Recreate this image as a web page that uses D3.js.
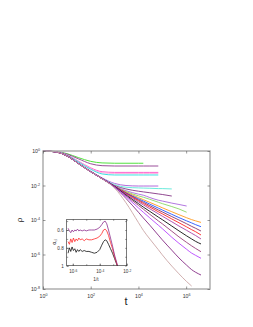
<!DOCTYPE html>
<html>
<head>
<meta charset="utf-8">
<script src="https://cdn.jsdelivr.net/npm/d3@7"></script>
<style>
html, body { margin: 0; padding: 0; background: #fff; }
svg { display: block; }
</style>
</head>
<body>
<svg id="chart"></svg>
<script>
// main panel: rho(t), one array per run, null after the run stops
const times = [1, 3, 10, 30, 100, 300, 1e3, 3e3, 1e4, 1.6e4, 3e4, 6.8e4, 1e5, 2.5e5, 5e5, 1.05e6, 1.7e6, 2.5e6, 4.2e6];

const rhoGreen = [1, 0.955, 0.708, 0.417, 0.251, 0.204, 0.195, 0.195, 0.195, 0.195];
const rhoPurpleA = [1, 0.933, 0.661, 0.355, 0.182, 0.141, 0.135, 0.135, 0.135, 0.135, 0.135, 0.135];
const rhoPink = [1, 0.933, 0.603, 0.263, 0.105, 0.063, 0.0575, 0.0575, 0.0575, 0.0575, 0.0575, 0.0575];
const rhoLightPink = [1, 0.933, 0.589, 0.251, 0.0955, 0.055, 0.0501, 0.0501, 0.0501, 0.0501, 0.0501, 0.0501];
const rhoCyan = [1, 0.933, 0.575, 0.234, 0.0871, 0.0468, 0.0407, 0.0407, 0.0407, 0.0407, 0.0407, 0.0407];
const rhoVioletA = [1, 0.912, 0.537, 0.2, 0.0676, 0.0275, 0.0132, 0.01, 0.00933, 0.00933, 0.00933, 0.00933];
const rhoLightCyan = [1, 0.912, 0.537, 0.195, 0.0661, 0.0263, 0.0112, 0.00794, 0.00724, 0.00708, 0.00692, 0.00661, 0.00661, 0.00631];
const rhoPurpleB = [1, 0.912, 0.525, 0.191, 0.0646, 0.0257, 0.01, 0.00631, 0.00468, 0.00427, 0.0038, 0.00324, 0.00302, 0.00245];
const rhoVioletB = [1, 0.912, 0.525, 0.191, 0.0631, 0.0251, 0.00933, 0.00501, 0.00316, 0.00275, 0.002, 0.00141, 0.00126, 0.000955, 0.000794, 0.000646];
const rhoLightGreen = [1, 0.912, 0.525, 0.191, 0.0631, 0.0251, 0.00891, 0.00447, 0.00251, 0.00209, 0.00158, 0.00107, 0.000891, 0.000603, 0.000437, 0.000282];
const rhoOrange = [1, 0.912, 0.525, 0.191, 0.0631, 0.0251, 0.00891, 0.00417, 0.002, 0.00151, 0.00105, 0.000646, 0.000513, 0.000302, 0.000204, 0.000135, 0.000105, 8.91e-5, 7.24e-5];
const rhoBlue = [1, 0.912, 0.525, 0.191, 0.0631, 0.0251, 0.00891, 0.0038, 0.0017, 0.00126, 0.000832, 0.00049, 0.00038, 0.000214, 0.000138, 8.91e-5, 6.76e-5, 5.37e-5, 4.07e-5];
const rhoPurpleC = [1, 0.912, 0.525, 0.191, 0.0631, 0.0251, 0.00891, 0.00363, 0.00148, 0.00107, 0.000676, 0.00038, 0.000295, 0.000158, 0.0001, 6.03e-5, 4.27e-5, 3.31e-5, 2.29e-5];
const rhoRed = [1, 0.912, 0.525, 0.191, 0.0631, 0.0251, 0.00891, 0.00339, 0.00132, 0.000912, 0.000562, 0.000302, 0.000229, 0.000115, 6.92e-5, 3.98e-5, 2.75e-5, 2.09e-5, 1.35e-5];
const rhoPurpleD = [1, 0.912, 0.525, 0.191, 0.0631, 0.0251, 0.00891, 0.00316, 0.00112, 0.000759, 0.000447, 0.000229, 0.000166, 7.94e-5, 4.47e-5, 2.51e-5, 1.7e-5, 1.26e-5, 7.94e-6];
const rhoBlack = [1, 0.912, 0.525, 0.191, 0.0631, 0.0251, 0.00891, 0.00282, 0.000891, 0.000562, 0.000316, 0.000148, 0.000105, 4.47e-5, 2.34e-5, 1.2e-5, 7.94e-6, 5.75e-6, 4.07e-6];
const rhoMauve = [1, 0.912, 0.525, 0.191, 0.0631, 0.0251, 0.00851, 0.00251, 0.000708, 0.000427, 0.000214, 8.91e-5, 6.03e-5, 2.24e-5, 1.05e-5, 5.01e-6, 3.16e-6, 2.24e-6, 1.45e-6];
const rhoVioletC = [1, 0.912, 0.525, 0.191, 0.0631, 0.025, 0.00832, 0.00224, 0.000501, 0.000282, 0.000132, 5.01e-5, 3.16e-5, 1e-5, 4.47e-6, 2e-6, 1.2e-6, 8.91e-7, 6.03e-7];
const rhoPurpleE = [1, 0.912, 0.525, 0.191, 0.0631, 0.0248, 0.00794, 0.00178, 0.000282, 0.000132, 5.01e-5, 1.32e-5, 7.08e-6, 1.78e-6, 6.31e-7, 2.4e-7, 1.32e-7, 9.33e-8, 6.46e-8];
const rhoRosy = [1, 0.912, 0.525, 0.191, 0.0631, 0.0245, 0.00708, 0.001, 7.08e-5, 2.51e-5, 7.94e-6, 1.91e-6, 9.55e-7, 2.14e-7, 7.59e-8, 2.69e-8, 1.48e-8];

const runs = [
  [rhoGreen, "#3fdc2a"], [rhoPurpleA, "#8f3a8f"], [rhoPink, "#ff4fc8"], [rhoLightPink, "#ffa8dc"],
  [rhoCyan, "#24dede"], [rhoVioletA, "#a85ad8"], [rhoLightCyan, "#5ae8d8"], [rhoPurpleB, "#853585"],
  [rhoVioletB, "#a968dc"], [rhoLightGreen, "#8ad866"], [rhoOrange, "#ff9a1e"], [rhoBlue, "#2455ff"],
  [rhoPurpleC, "#86336a"], [rhoRed, "#ff2424"], [rhoPurpleD, "#a844a8"], [rhoBlack, "#111111"],
  [rhoMauve, "#98407a"], [rhoVioletC, "#b845ff"], [rhoPurpleE, "#852a85"], [rhoRosy, "#cba6a6"]
];

// inset: alpha_d vs 1/t
const invTimes = [4.47e-7, 5.62e-7, 7.08e-7, 8.91e-7, 1.12e-6, 1.41e-6, 1.78e-6, 2.24e-6, 2.82e-6, 3.55e-6, 5.01e-6, 7.08e-6, 1e-5, 1.58e-5, 2.51e-5, 3.98e-5, 6.31e-5, 1e-4, 1.41e-4, 1.91e-4, 2.51e-4, 3.31e-4, 4.47e-4, 6.31e-4, 8.91e-4, 1.26e-3, 1.78e-3, 2.51e-3];
const alphaPurple = [0.58, 0.61, 0.63, 0.60, 0.62, 0.60, 0.61, 0.59, 0.61, 0.60, 0.61, 0.60, 0.61, 0.60, 0.60, 0.60, 0.59, 0.57, 0.54, 0.51, 0.50, 0.53, 0.60, 0.69, 0.78, 0.88, 0.96, 1.05];
const alphaRed = [0.73, 0.76, 0.70, 0.74, 0.69, 0.73, 0.70, 0.72, 0.69, 0.71, 0.70, 0.72, 0.70, 0.71, 0.71, 0.70, 0.69, 0.67, 0.64, 0.60, 0.59, 0.61, 0.66, 0.74, 0.81, 0.90, 0.97, 1.05];
const alphaBlack = [0.86, 0.80, 0.84, 0.79, 0.83, 0.81, 0.85, 0.82, 0.84, 0.82, 0.84, 0.83, 0.84, 0.84, 0.85, 0.86, 0.85, 0.82, 0.77, 0.73, 0.71, 0.72, 0.76, 0.81, 0.86, 0.92, 0.98, 1.05];

const mainXTicks = [1, 1e2, 1e4, 1e6];
const mainYTicks = [1e-8, 1e-6, 1e-4, 1e-2, 1];
const insetXTicks = [1e-6, 1e-4, 1e-2];
const insetXMinor = [1e-6, 1e-5, 1e-4, 1e-3, 1e-2];
const insetYTicks = [0.6, 0.8, 1];
const insetYMinor = [0.5, 0.6, 0.7, 0.8, 0.9, 1];

const width = 253, height = 327;
const svg = d3.select("#chart").attr("width", width).attr("height", height);
svg.append("rect").attr("width", width).attr("height", height).attr("fill", "#fff");

const box = {left: 43, right: 210, top: 151, bottom: 289};
const x = d3.scaleLog().domain([1, 1e7]).range([box.left, box.right]);
const y = d3.scaleLog().domain([1e-8, 1]).range([box.bottom, box.top]);

const font = "Liberation Sans, Arial, sans-serif";

// power-of-ten label with superscript
function powLabel(sel) {
  sel.each(function(d) {
    const t = d3.select(this);
    const e = Math.round(Math.log10(d));
    t.text("10");
    t.append("tspan").attr("dy", "-0.55em").attr("font-size", "0.7em").text(e);
  });
}

const line = d3.line()
  .defined(d => d[1] != null)
  .x(d => x(d[0]))
  .y(d => y(d[1]))
  .curve(d3.curveMonotoneX);

const plot = svg.append("g");
runs.forEach(([vals, col]) => {
  plot.append("path")
    .datum(vals.map((v, i) => [times[i], v]))
    .attr("fill", "none")
    .attr("stroke", col)
    .attr("stroke-width", 0.9)
    .attr("d", line);
});

// frame
svg.append("rect")
  .attr("x", box.left).attr("y", box.top)
  .attr("width", box.right - box.left).attr("height", box.bottom - box.top)
  .attr("fill", "none").attr("stroke", "#a8a8a8").attr("stroke-width", 1.4);

const axStyle = g => {
  g.select(".domain").remove();
  g.selectAll(".tick line").attr("stroke", "#555").attr("stroke-width", 0.6);
  g.selectAll(".tick text").attr("fill", "#333").attr("font-size", 5.2).attr("font-family", font);
};

svg.append("g").attr("transform", `translate(0,${box.bottom})`)
  .call(d3.axisBottom(x).tickValues(mainXTicks).tickSizeInner(-2.5).tickSizeOuter(0).tickPadding(5))
  .call(axStyle)
  .call(g => g.selectAll(".tick text").call(powLabel));
svg.append("g").attr("transform", `translate(0,${box.top})`)
  .call(d3.axisTop(x).tickValues(mainXTicks).tickSizeInner(-2.5).tickSizeOuter(0).tickFormat(""))
  .call(axStyle);
svg.append("g").attr("transform", `translate(${box.left},0)`)
  .call(d3.axisLeft(y).tickValues(mainYTicks).tickSizeInner(-2.5).tickSizeOuter(0).tickPadding(3))
  .call(axStyle)
  .call(g => g.selectAll(".tick text").call(powLabel));
svg.append("g").attr("transform", `translate(${box.right},0)`)
  .call(d3.axisRight(y).tickValues(mainYTicks).tickSizeInner(-2.5).tickSizeOuter(0).tickFormat(""))
  .call(axStyle);

svg.append("text").attr("x", 126).attr("y", 305).attr("text-anchor", "middle")
  .attr("font-family", font).attr("font-size", 11).attr("fill", "#222").text("t");
svg.append("text").attr("transform", "translate(22,220) rotate(-90)").attr("text-anchor", "middle")
  .attr("font-family", font).attr("font-size", 8).attr("fill", "#222").text("ρ");

// inset
const ib = {left: 66.7, right: 126.7, top: 219.3, bottom: 265.7};
const ix = d3.scaleLog().domain([Math.pow(10, -6.45), 1e-2]).range([ib.left, ib.right]);
const iy = d3.scaleLinear().domain([0.48, 1]).range([ib.top, ib.bottom]);

svg.append("rect")
  .attr("x", ib.left).attr("y", ib.top)
  .attr("width", ib.right - ib.left).attr("height", ib.bottom - ib.top)
  .attr("fill", "#fff");
svg.append("clipPath").attr("id", "insetClip").append("rect")
  .attr("x", ib.left).attr("y", ib.top)
  .attr("width", ib.right - ib.left).attr("height", ib.bottom - ib.top);

const iline = d3.line().x(d => ix(d[0])).y(d => iy(d[1]));
const inset = svg.append("g").attr("clip-path", "url(#insetClip)");
[[alphaBlack, "#111"], [alphaRed, "#ff2a2a"], [alphaPurple, "#8d2f8d"]].forEach(([vals, col]) => {
  inset.append("path")
    .datum(vals.map((v, i) => [invTimes[i], v]))
    .attr("fill", "none").attr("stroke", col).attr("stroke-width", 0.8)
    .attr("d", iline);
});

svg.append("rect")
  .attr("x", ib.left).attr("y", ib.top)
  .attr("width", ib.right - ib.left).attr("height", ib.bottom - ib.top)
  .attr("fill", "none").attr("stroke", "#222").attr("stroke-width", 0.6);

const iaxStyle = g => {
  g.select(".domain").remove();
  g.selectAll(".tick line").attr("stroke", "#333").attr("stroke-width", 0.5);
  g.selectAll(".tick text").attr("fill", "#333").attr("font-size", 4.6).attr("font-family", font);
};

svg.append("g").attr("transform", `translate(0,${ib.bottom})`)
  .call(d3.axisBottom(ix).tickValues(insetXMinor).tickSizeInner(-1.5).tickSizeOuter(0).tickFormat(""))
  .call(iaxStyle);
svg.append("g").attr("transform", `translate(0,${ib.bottom})`)
  .call(d3.axisBottom(ix).tickValues(insetXTicks).tickSizeInner(-2.2).tickSizeOuter(0).tickPadding(4.5))
  .call(iaxStyle)
  .call(g => g.selectAll(".tick text").call(powLabel));
svg.append("g").attr("transform", `translate(0,${ib.top})`)
  .call(d3.axisTop(ix).tickValues(insetXMinor).tickSizeInner(-1.5).tickSizeOuter(0).tickFormat(""))
  .call(iaxStyle);
svg.append("g").attr("transform", `translate(${ib.left},0)`)
  .call(d3.axisLeft(iy).tickValues(insetYMinor).tickSizeInner(-1.5).tickSizeOuter(0).tickFormat(""))
  .call(iaxStyle);
svg.append("g").attr("transform", `translate(${ib.left},0)`)
  .call(d3.axisLeft(iy).tickValues(insetYTicks).tickSizeInner(-2.2).tickSizeOuter(0).tickPadding(3)
    .tickFormat(d3.format("~g")))
  .call(iaxStyle);
svg.append("g").attr("transform", `translate(${ib.right},0)`)
  .call(d3.axisRight(iy).tickValues(insetYMinor).tickSizeInner(-1.5).tickSizeOuter(0).tickFormat(""))
  .call(iaxStyle);

svg.append("text").attr("x", 96).attr("y", 281).attr("text-anchor", "middle")
  .attr("font-family", font).attr("font-size", 4.8).attr("fill", "#333").text("1/t");
const al = svg.append("text").attr("transform", "translate(56,242) rotate(-90)").attr("text-anchor", "middle")
  .attr("font-family", font).attr("font-size", 5.5).attr("fill", "#333").text("α");
al.append("tspan").attr("dy", "0.3em").attr("font-size", "0.7em").text("d");
</script>
</body>
</html>
